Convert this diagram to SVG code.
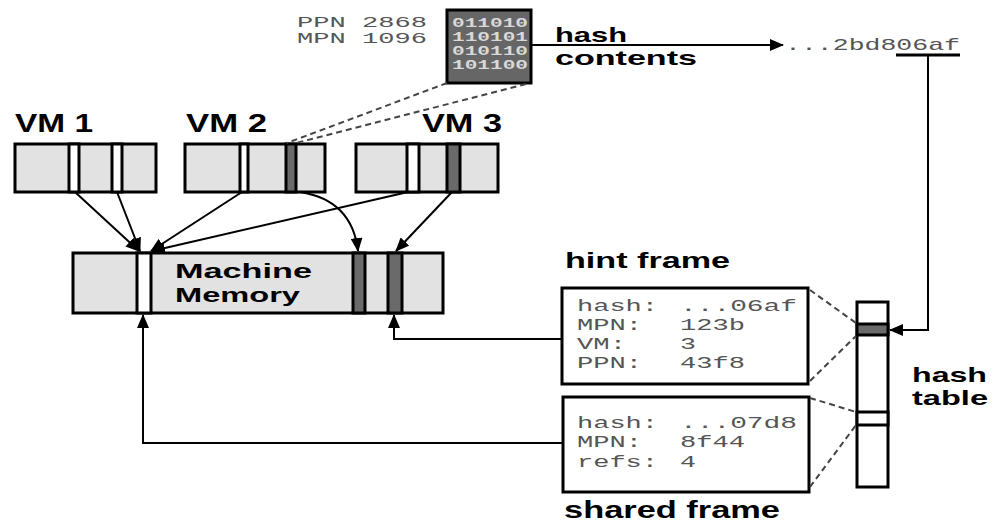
<svg xmlns="http://www.w3.org/2000/svg" width="994" height="525" viewBox="0 0 994 525">
<style>
.cell{fill:#e2e2e2;stroke:#000;stroke-width:3}
.wslot{fill:#fff;stroke:#000;stroke-width:3}
.dslot{fill:#6a6a6a;stroke:#000;stroke-width:3}
.box{fill:#fff;stroke:#000;stroke-width:3}
.lbl{font-family:"Liberation Sans",Arial,sans-serif;font-weight:bold;fill:#000}
.mono{font-family:"Liberation Mono","Courier New",monospace;fill:#555}
.fr{font-size:16px}
.bin{font-family:"Liberation Mono","Courier New",monospace;font-weight:bold;fill:#d8d8d8;font-size:12px}
.conn{fill:none;stroke:#000;stroke-width:2}
.dash{fill:none;stroke:#444;stroke-width:2;stroke-dasharray:6,4}
</style>
<defs>
<marker id="ah" markerUnits="userSpaceOnUse" markerWidth="14" markerHeight="12" refX="13" refY="6" orient="auto">
<path d="M0,0 L14,6 L0,12 z" fill="#000"/>
</marker>
</defs>

<g id="vm1">
<rect class="cell" x="15" y="144" width="141" height="48"/>
<rect class="wslot" x="69" y="144" width="10" height="48"/>
<rect class="wslot" x="112" y="144" width="10" height="48"/>
<text class="lbl" x="15" y="132" font-size="26" textLength="78" lengthAdjust="spacingAndGlyphs">VM 1</text>
</g>
<g id="vm2">
<rect class="cell" x="185" y="144" width="140" height="48"/>
<rect class="wslot" x="240" y="144" width="8" height="48"/>
<rect class="dslot" x="286" y="144" width="10" height="48"/>
<text class="lbl" x="186" y="132" font-size="26" textLength="81" lengthAdjust="spacingAndGlyphs">VM 2</text>
</g>
<g id="vm3">
<rect class="cell" x="356" y="144" width="142" height="48"/>
<rect class="wslot" x="407" y="144" width="12" height="48"/>
<rect class="dslot" x="447" y="144" width="13" height="48"/>
<text class="lbl" x="422" y="132" font-size="26" textLength="80" lengthAdjust="spacingAndGlyphs">VM 3</text>
</g>

<g id="machine-memory">
<rect class="cell" x="73" y="253" width="370" height="60"/>
<rect class="wslot" x="137" y="253" width="14" height="60"/>
<rect class="dslot" x="353" y="253" width="12" height="60"/>
<rect class="dslot" x="388" y="253" width="14" height="60"/>
<text class="lbl" x="175" y="278" font-size="21" textLength="137" lengthAdjust="spacingAndGlyphs">Machine</text>
<text class="lbl" x="175" y="302" font-size="21" textLength="125" lengthAdjust="spacingAndGlyphs">Memory</text>
</g>

<g id="page-contents">
<text class="mono" x="297" y="27" font-size="14" textLength="130" lengthAdjust="spacingAndGlyphs">PPN 2868</text>
<text class="mono" x="297" y="43" font-size="14" textLength="130" lengthAdjust="spacingAndGlyphs">MPN 1096</text>
<rect x="447" y="10" width="84" height="73" fill="#666" stroke="#000" stroke-width="3"/>
<text class="bin" x="452" y="27" textLength="76" lengthAdjust="spacingAndGlyphs">011010</text>
<text class="bin" x="452" y="41" textLength="76" lengthAdjust="spacingAndGlyphs">110101</text>
<text class="bin" x="452" y="55" textLength="76" lengthAdjust="spacingAndGlyphs">010110</text>
<text class="bin" x="452" y="69" textLength="76" lengthAdjust="spacingAndGlyphs">101100</text>
<text class="lbl" x="555" y="42" font-size="21" textLength="72" lengthAdjust="spacingAndGlyphs">hash</text>
<text class="lbl" x="555" y="65" font-size="21" textLength="142" lengthAdjust="spacingAndGlyphs">contents</text>
</g>

<g id="hash-value">
<text class="mono" x="785" y="50" font-size="17" textLength="175" lengthAdjust="spacingAndGlyphs">...2bd806af</text>
<line x1="896" y1="55" x2="960" y2="55" stroke="#000" stroke-width="3"/>
</g>

<g id="hint-frame">
<text class="lbl" x="565" y="268" font-size="22" textLength="165" lengthAdjust="spacingAndGlyphs">hint frame</text>
<rect class="box" x="562" y="288" width="246" height="96"/>
<text class="mono fr" x="577" y="311" textLength="81" lengthAdjust="spacingAndGlyphs">hash:</text>
<text class="mono fr" x="680" y="311" textLength="117" lengthAdjust="spacingAndGlyphs">...06af</text>
<text class="mono fr" x="577" y="330" textLength="65" lengthAdjust="spacingAndGlyphs">MPN:</text>
<text class="mono fr" x="680" y="330" textLength="65" lengthAdjust="spacingAndGlyphs">123b</text>
<text class="mono fr" x="577" y="349" textLength="49" lengthAdjust="spacingAndGlyphs">VM:</text>
<text class="mono fr" x="680" y="349" textLength="16" lengthAdjust="spacingAndGlyphs">3</text>
<text class="mono fr" x="577" y="368" textLength="65" lengthAdjust="spacingAndGlyphs">PPN:</text>
<text class="mono fr" x="680" y="368" textLength="65" lengthAdjust="spacingAndGlyphs">43f8</text>
</g>

<g id="shared-frame">
<rect class="box" x="563" y="397" width="246" height="95"/>
<text class="mono fr" x="577" y="428" textLength="81" lengthAdjust="spacingAndGlyphs">hash:</text>
<text class="mono fr" x="680" y="428" textLength="117" lengthAdjust="spacingAndGlyphs">...07d8</text>
<text class="mono fr" x="577" y="447" textLength="65" lengthAdjust="spacingAndGlyphs">MPN:</text>
<text class="mono fr" x="680" y="447" textLength="65" lengthAdjust="spacingAndGlyphs">8f44</text>
<text class="mono fr" x="577" y="467" textLength="81" lengthAdjust="spacingAndGlyphs">refs:</text>
<text class="mono fr" x="680" y="467" textLength="16" lengthAdjust="spacingAndGlyphs">4</text>
<text class="lbl" x="564" y="518" font-size="24" textLength="216" lengthAdjust="spacingAndGlyphs">shared frame</text>
</g>

<g id="hash-table">
<rect class="box" x="857" y="302" width="31" height="185"/>
<rect class="dslot" x="857" y="324" width="31" height="11"/>
<rect class="box" x="857" y="412" width="31" height="13"/>
<text class="lbl" x="912" y="382" font-size="21" textLength="75" lengthAdjust="spacingAndGlyphs">hash</text>
<text class="lbl" x="912" y="405" font-size="21" textLength="76" lengthAdjust="spacingAndGlyphs">table</text>
</g>

<g id="connectors">
<line class="conn" x1="75" y1="192" x2="139" y2="251" marker-end="url(#ah)"/>
<line class="conn" x1="117" y1="192" x2="140" y2="251" marker-end="url(#ah)"/>
<line class="conn" x1="242" y1="192" x2="151" y2="251" marker-end="url(#ah)"/>
<line class="conn" x1="408" y1="192" x2="152" y2="251" marker-end="url(#ah)"/>
<path class="conn" d="M300,192 Q352,200 358,251" marker-end="url(#ah)"/>
<line class="conn" x1="452" y1="192" x2="396" y2="251" marker-end="url(#ah)"/>
<line class="conn" x1="531" y1="45" x2="783" y2="45" marker-end="url(#ah)"/>
<polyline class="conn" points="928,55 928,330 890,330" marker-end="url(#ah)"/>
<polyline class="conn" points="562,339 394,339 394,315" marker-end="url(#ah)"/>
<polyline class="conn" points="563,443 143,443 143,315" marker-end="url(#ah)"/>
<line class="dash" x1="447" y1="83" x2="287" y2="143"/>
<line class="dash" x1="526" y1="84" x2="296" y2="143"/>
<line class="dash" x1="810" y1="290" x2="856" y2="323"/>
<line class="dash" x1="810" y1="381" x2="856" y2="336"/>
<line class="dash" x1="810" y1="398" x2="856" y2="412"/>
<line class="dash" x1="810" y1="487" x2="856" y2="425"/>
</g>
</svg>
